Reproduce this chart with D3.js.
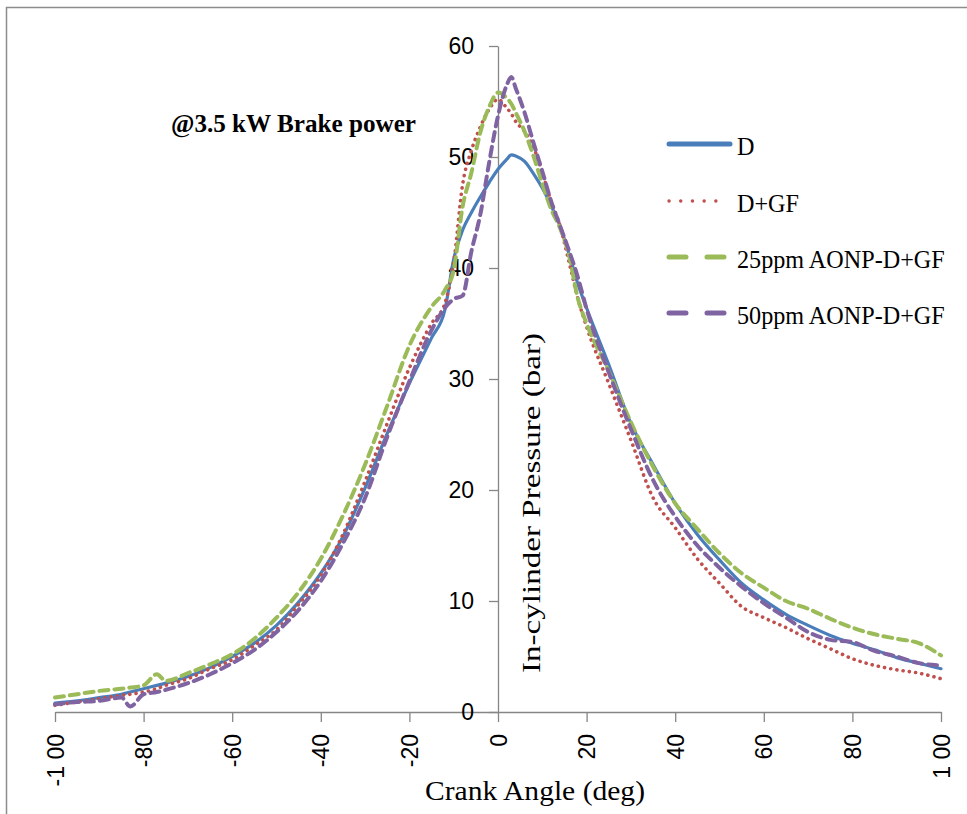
<!DOCTYPE html>
<html>
<head>
<meta charset="utf-8">
<script src="https://cdn.jsdelivr.net/npm/d3@7"></script>
<style>
  html, body { margin: 0; padding: 0; background: #ffffff; }
  svg { display: block; }
</style>
</head>
<body>
<script>
// crank angle (deg) shared by all series
const crankAngle = [-100, -95, -90, -85, -83, -80, -77, -75, -70, -65, -60, -55, -50, -45, -40, -35, -30, -25, -20, -15,
  -12, -10, -8, -6, -4, -2, 0, 2, 3, 4, 6, 8, 10, 12, 14, 16, 18, 20,
  25, 30, 35, 40, 45, 50, 55, 60, 65, 70, 75, 80, 85, 90, 95, 100];

// in-cylinder pressure (bar)
const pressD = [0.8, 1.0, 1.3, 1.6, 1.8, 2.1, 2.4, 2.6, 3.2, 4.0, 5.0, 6.2, 7.8, 9.9, 12.5, 15.8, 20.2, 25.1, 29.6, 33.7,
  36.2, 40.8, 43.4, 45.0, 46.4, 47.7, 48.9, 49.8, 50.2, 50.1, 49.6, 48.5, 47.2, 45.6, 43.8, 41.3, 38.6, 36.4,
  31.3, 26.0, 22.3, 18.8, 16.0, 13.7, 11.6, 10.1, 8.8, 7.8, 6.9, 6.2, 5.6, 4.9, 4.4, 3.9];

const pressDGF = [0.6, 0.9, 1.2, 1.5, 1.6, 1.8, 2.1, 2.4, 3.0, 3.9, 4.7, 6.0, 7.4, 9.7, 12.3, 16.0, 20.8, 26.0, 31.0, 35.0,
  36.8, 40.5, 47.5, 50.6, 52.7, 54.3, 55.2, 54.4, 53.9, 53.2, 52.3, 50.9, 48.6, 46.0, 43.8, 40.6, 37.3, 34.7,
  29.6, 24.5, 19.3, 16.6, 13.8, 11.6, 9.5, 8.5, 7.6, 6.6, 5.7, 4.8, 4.2, 3.8, 3.5, 3.0];

const press25 = [1.3, 1.6, 1.9, 2.1, 2.2, 2.4, 3.4, 2.8, 3.5, 4.3, 5.2, 6.6, 8.5, 10.8, 13.8, 17.7, 22.3, 27.6, 33.0, 36.5,
  38.0, 39.8, 45.5, 48.6, 52.2, 54.5, 55.8, 55.3, 54.8, 54.0, 52.3, 50.1, 47.6, 45.3, 43.6, 41.2, 37.3, 35.0,
  30.7, 26.1, 22.1, 18.8, 16.5, 14.3, 12.5, 11.2, 10.0, 9.3, 8.4, 7.6, 7.0, 6.6, 6.2, 5.1];

const press50 = [0.7, 0.9, 1.0, 1.3, 0.5, 1.6, 1.8, 2.0, 2.6, 3.4, 4.4, 5.6, 7.2, 9.2, 11.8, 15.2, 19.3, 24.8, 29.8, 34.4,
  36.4, 37.2, 37.5, 41.5, 44.8, 49.5, 53.7, 56.5, 57.2, 56.2, 54.0, 51.3, 48.7, 46.0, 43.8, 41.6, 39.2, 36.3,
  30.6, 25.5, 20.9, 17.6, 15.0, 13.0, 11.3, 9.8, 8.5, 7.2, 6.5, 6.3, 5.5, 5.0, 4.4, 4.2];

const seriesNames = ["D", "D+GF", "25ppm AONP-D+GF", "50ppm AONP-D+GF"];
const seriesValues = [pressD, pressDGF, press25, press50];

const xTicks = [-100, -80, -60, -40, -20, 0, 20, 40, 60, 80, 100];
const xTickLabels = ["-1 00", "-80", "-60", "-40", "-20", "0", "20", "40", "60", "80", "1 00"];
const yTicks = [0, 10, 20, 30, 40, 50, 60];

const drawViz = () => {

  const width = 967;
  const height = 814;

  // line styles per series: plot dash / legend dash
  const styles = [
    {color: "#4a7ebb", w: 3.2, dash: null, legDash: null, cap: "round"},
    {color: "#c0504d", w: 3.6, dash: "0.1,6.2", legDash: "0.1,11.6", cap: "round"},
    {color: "#9bbb59", w: 4, dash: "9,6", legDash: "17,21", cap: "round"},
    {color: "#8064a2", w: 4, dash: "9,6", legDash: "17,21", cap: "round"}
  ];

  const xScale = d3.scaleLinear().domain([-100, 100]).range([55, 941]);
  const yScale = d3.scaleLinear().domain([0, 60]).range([712, 46]);

  d3.select('body').selectAll('svg').remove();

  const svg = d3.select('body')
    .append('svg')
    .attr('width', width)
    .attr('height', height);

  // chart frame (only top and left edges visible)
  svg.append('rect')
    .attr('x', 6.5).attr('y', 7.5)
    .attr('width', 1000).attr('height', 1000)
    .attr('fill', '#ffffff')
    .attr('stroke', '#8c8c8c')
    .attr('stroke-width', 1.5);

  const axisColor = '#868686';
  const tickFont = '"Liberation Sans Narrow", "Arial Narrow", sans-serif';

  // x axis
  const xAxis = svg.append('g')
    .attr('transform', `translate(0, ${yScale(0)})`)
    .call(d3.axisBottom(xScale)
      .tickValues(xTicks)
      .tickSize(10)
      .tickSizeOuter(0)
      .tickFormat((d, i) => xTickLabels[i]));
  xAxis.select('.domain').attr('stroke', axisColor).attr('stroke-width', 1.3);
  xAxis.selectAll('.tick line').attr('stroke', axisColor).attr('stroke-width', 1.3);
  xAxis.selectAll('.tick text')
    .attr('transform', 'rotate(-90)')
    .attr('x', -22)
    .attr('y', 0)
    .attr('dy', '0.35em')
    .attr('text-anchor', 'end')
    .attr('fill', '#000')
    .attr('font-family', tickFont)
    .attr('font-size', 23);

  // y axis at crank angle 0
  const yAxis = svg.append('g')
    .attr('transform', `translate(${xScale(0)}, 0)`)
    .call(d3.axisLeft(yScale)
      .tickValues(yTicks)
      .tickSize(9)
      .tickSizeOuter(0)
      .tickPadding(15));
  yAxis.select('.domain').attr('stroke', axisColor).attr('stroke-width', 1.3);
  yAxis.selectAll('.tick line').attr('stroke', axisColor).attr('stroke-width', 1.3);
  yAxis.selectAll('.tick text')
    .attr('fill', '#000')
    .attr('font-family', tickFont)
    .attr('font-size', 23);

  // series lines
  const line = d3.line()
    .x((d) => xScale(d[0]))
    .y((d) => yScale(d[1]))
    .curve(d3.curveMonotoneX);

  seriesValues.forEach((vals, i) => {
    const pts = crankAngle.map((a, j) => [a, vals[j]]);
    const s = styles[i];
    svg.append('path')
      .datum(pts)
      .attr('fill', 'none')
      .attr('stroke', s.color)
      .attr('stroke-width', s.w)
      .attr('stroke-linecap', s.cap)
      .attr('stroke-linejoin', 'round')
      .attr('stroke-dasharray', s.dash)
      .attr('d', line);
  });

  // axis titles
  svg.append('text')
    .attr('transform', `translate(540, 673) rotate(-90)`)
    .attr('font-family', '"Liberation Serif", "Times New Roman", serif')
    .attr('font-size', 26)
    .attr('textLength', 340)
    .attr('lengthAdjust', 'spacingAndGlyphs')
    .text('In-cylinder Pressure (bar)');

  svg.append('text')
    .attr('x', 425)
    .attr('y', 800)
    .attr('font-family', '"Liberation Serif", "Times New Roman", serif')
    .attr('font-size', 28)
    .attr('textLength', 220)
    .attr('lengthAdjust', 'spacingAndGlyphs')
    .text('Crank Angle (deg)');

  // annotation
  svg.append('text')
    .attr('x', 171)
    .attr('y', 132)
    .attr('font-family', '"Liberation Serif", "Times New Roman", serif')
    .attr('font-weight', 'bold')
    .attr('font-size', 25)
    .attr('textLength', 245)
    .attr('lengthAdjust', 'spacingAndGlyphs')
    .text('@3.5 kW Brake power');

  // legend
  const legend = svg.append('g').attr('class', 'legend');
  const legRows = [144, 201, 257, 313];
  seriesNames.forEach((name, i) => {
    const s = styles[i];
    const row = legend.append('g').attr('transform', `translate(0, ${legRows[i]})`);
    row.append('line')
      .attr('x1', 669).attr('x2', i === 0 ? 730 : 726)
      .attr('y1', 0).attr('y2', 0)
      .attr('stroke', s.color)
      .attr('stroke-width', i === 1 ? 3.4 : 5)
      .attr('stroke-linecap', s.cap)
      .attr('stroke-dasharray', s.legDash);
    row.append('text')
      .attr('transform', 'translate(737, 11) scale(0.93, 1)')
      .attr('font-family', '"Liberation Serif", "Times New Roman", serif')
      .attr('font-size', 26)
      .text(name);
  });
}

drawViz();
</script>
</body>
</html>
